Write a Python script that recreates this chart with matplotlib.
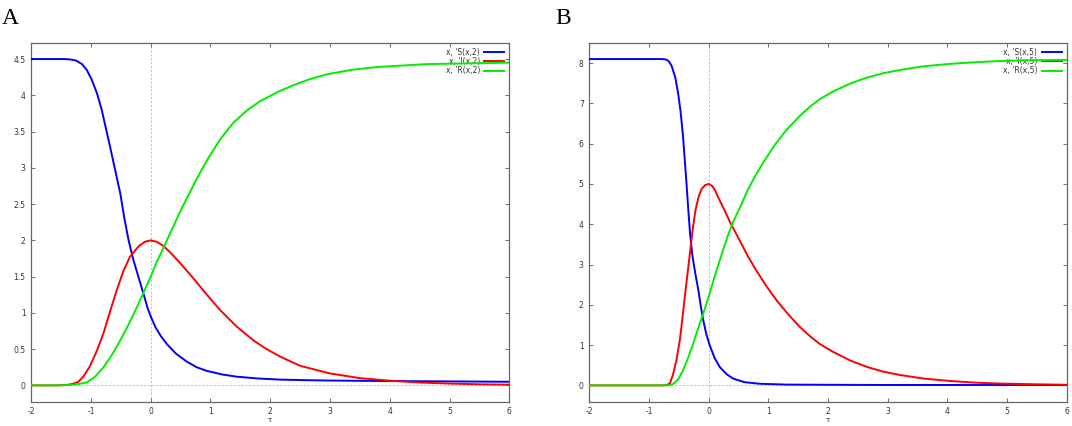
import matplotlib
matplotlib.use("Agg")
import matplotlib.pyplot as plt
from matplotlib.ticker import FuncFormatter, MultipleLocator

plt.rcParams['axes.unicode_minus'] = False

# panel A, beta = 2
sA_x = [-2, -1.6, -1.45, -1.35, -1.25, -1.15, -1.07, -0.99, -0.9, -0.82, -0.68, -0.51, -0.44,
        -0.37, -0.29, -0.2, -0.12, -0.05, 0.0, 0.08, 0.17, 0.27, 0.42, 0.6, 0.77, 0.94,
        1.2, 1.44, 1.8, 2.16, 2.6, 3.0, 3.5, 4.0, 5.0, 6.0]
sA_y = [4.5, 4.5, 4.5, 4.495, 4.48, 4.43, 4.35, 4.22, 4.03, 3.8, 3.29, 2.65, 2.3,
        2.0, 1.73, 1.48, 1.26, 1.06, 0.95, 0.8, 0.68, 0.57, 0.44, 0.33, 0.25, 0.2,
        0.15, 0.12, 0.095, 0.08, 0.072, 0.067, 0.063, 0.06, 0.055, 0.05]

iA_x = [-2, -1.6, -1.41, -1.31, -1.21, -1.12, -1.02, -0.9, -0.79, -0.68, -0.57, -0.46,
        -0.35, -0.2, -0.1, 0.0, 0.1, 0.2, 0.32, 0.5, 0.71, 0.93, 1.16, 1.44, 1.72,
        1.94, 2.16, 2.5, 3.0, 3.5, 4.0, 4.5, 5.0, 5.5, 6.0]
iA_y = [0, 0, 0.005, 0.02, 0.05, 0.13, 0.26, 0.48, 0.72, 1.02, 1.31, 1.57,
        1.77, 1.92, 1.98, 2.0, 1.98, 1.93, 1.84, 1.68, 1.48, 1.26, 1.04, 0.81, 0.62,
        0.5, 0.4, 0.27, 0.165, 0.1, 0.065, 0.04, 0.025, 0.015, 0.01]

rA_x = [-2, -1.6, -1.35, -1.2, -1.07, -0.93, -0.79, -0.65, -0.51, -0.37, -0.23, -0.12,
        0.0, 0.1, 0.22, 0.32, 0.41, 0.5, 0.63, 0.77, 0.96, 1.16, 1.38, 1.61, 1.83,
        2.16, 2.39, 2.65, 2.95, 3.35, 3.78, 4.2, 4.62, 5.3, 6.0]
rA_y = [0, 0, 0.005, 0.02, 0.04, 0.12, 0.25, 0.42, 0.62, 0.84, 1.08, 1.28,
        1.5, 1.7, 1.91, 2.09, 2.25, 2.41, 2.62, 2.85, 3.13, 3.39, 3.62, 3.79, 3.92,
        4.06, 4.14, 4.22, 4.29, 4.35, 4.39, 4.41, 4.43, 4.44, 4.45]

# panel B, beta = 5
sB_x = [-2, -1, -0.8, -0.74, -0.7, -0.66, -0.62, -0.56, -0.51, -0.47, -0.43, -0.4, -0.37,
        -0.34, -0.31, -0.27, -0.22, -0.17, -0.13, -0.09, -0.04, 0.02, 0.1, 0.19, 0.3,
        0.41, 0.6, 0.86, 1.3, 2.0, 3.0, 4.0, 5.0, 6.0]
sB_y = [8.1, 8.1, 8.1, 8.095, 8.08, 8.03, 7.93, 7.65, 7.24, 6.8, 6.2, 5.6, 5.0,
        4.35, 3.75, 3.2, 2.75, 2.35, 1.95, 1.62, 1.28, 0.99, 0.68, 0.45, 0.28,
        0.17, 0.08, 0.04, 0.02, 0.015, 0.01, 0.01, 0.01, 0.01]

iB_x = [-2, -1, -0.76, -0.7, -0.65, -0.6, -0.54, -0.48, -0.43, -0.38, -0.34, -0.3,
        -0.26, -0.22, -0.17, -0.12, -0.06, 0.0, 0.06, 0.11, 0.16, 0.26, 0.36, 0.52,
        0.66, 0.8, 0.97, 1.14, 1.33, 1.53, 1.7, 1.86, 2.09, 2.37, 2.65, 2.93, 3.2,
        3.6, 4.04, 4.45, 4.88, 5.4, 6.0]
iB_y = [0, 0, 0, 0.01, 0.05, 0.25, 0.62, 1.15, 1.78, 2.45, 2.94, 3.45,
        3.95, 4.35, 4.67, 4.87, 4.97, 5.0, 4.95, 4.84, 4.67, 4.37, 4.05, 3.6,
        3.2, 2.85, 2.46, 2.11, 1.77, 1.45, 1.22, 1.03, 0.83, 0.62, 0.46, 0.34, 0.26,
        0.17, 0.11, 0.07, 0.045, 0.03, 0.015]

rB_x = [-2, -1, -0.72, -0.65, -0.59, -0.51, -0.43, -0.35, -0.26, -0.18, -0.09, 0.0,
        0.08, 0.16, 0.24, 0.32, 0.41, 0.52, 0.64, 0.77, 0.91, 1.1, 1.31, 1.53, 1.7, 1.86,
        2.09, 2.37, 2.65, 2.93, 3.21, 3.6, 4.04, 4.45, 4.88, 5.4, 6.0]
rB_y = [0, 0, 0, 0.005, 0.04, 0.15, 0.37, 0.66, 1.03, 1.4, 1.78, 2.2,
        2.6, 2.98, 3.35, 3.71, 4.05, 4.4, 4.8, 5.17, 5.52, 5.95, 6.35, 6.69, 6.92, 7.1,
        7.3, 7.49, 7.64, 7.75, 7.83, 7.92, 7.98, 8.02, 8.05, 8.07, 8.08]

labelsA = ["x, 'S(x,2)", "x, 'I(x,2)", "x, 'R(x,2)"]
labelsB = ["x, 'S(x,5)", "x, 'I(x,5)", "x, 'R(x,5)"]
colors = ['#0000ff', '#ff0000', '#00ee00']

fig = plt.figure(figsize=(10.72, 4.26), dpi=100)
axA = fig.add_axes([0.0291, 0.057, 0.4460, 0.8427])
axB = fig.add_axes([0.5497, 0.057, 0.4453, 0.8427])


def draw(ax, series, labels, ylim, ystep):
    ax.axhline(0, color='#bbbbbb', lw=0.7, ls=(0, (2, 2)), zorder=1)
    ax.axvline(0, color='#bbbbbb', lw=0.7, ls=(0, (2, 2)), zorder=1)
    for (xs, ys), lab, c in zip(series, labels, colors):
        ax.plot(xs, ys, color=c, lw=1.4, label=lab, zorder=3,
                solid_joinstyle='round')
    ax.set_xlim(-2, 6)
    ax.set_ylim(*ylim)
    ax.xaxis.set_major_locator(MultipleLocator(1))
    ax.yaxis.set_major_locator(MultipleLocator(ystep))
    ax.yaxis.set_major_formatter(FuncFormatter(lambda v, p: '%g' % v))
    ax.tick_params(direction='in', top=True, right=True, length=3, width=0.6,
                   labelsize=5.5, labelcolor='#333333', color='#555555', pad=4)
    for s in ax.spines.values():
        s.set_color('#666666')
        s.set_linewidth(0.9)
    ax.set_xlabel('τ', fontsize=5, color='#333333', labelpad=0.5)
    leg = ax.legend(loc='upper right', markerfirst=False, frameon=False, fontsize=5.5,
                    handlelength=2.6, labelspacing=0.05, borderaxespad=0.25,
                    handletextpad=0.6)
    leg.set_zorder(2)
    for t in leg.get_texts():
        t.set_color('#333333')


draw(axA, [(sA_x, sA_y), (iA_x, iA_y), (rA_x, rA_y)], labelsA, (-0.225, 4.725), 0.5)
draw(axB, [(sB_x, sB_y), (iB_x, iB_y), (rB_x, rB_y)], labelsB, (-0.405, 8.505), 1)

fig.text(0.002, 0.982, 'A', fontsize=17, family='Liberation Serif', va='top', ha='left')
fig.text(0.518, 0.982, 'B', fontsize=17, family='Liberation Serif', va='top', ha='left')

fig.savefig('out.png', dpi=100)
